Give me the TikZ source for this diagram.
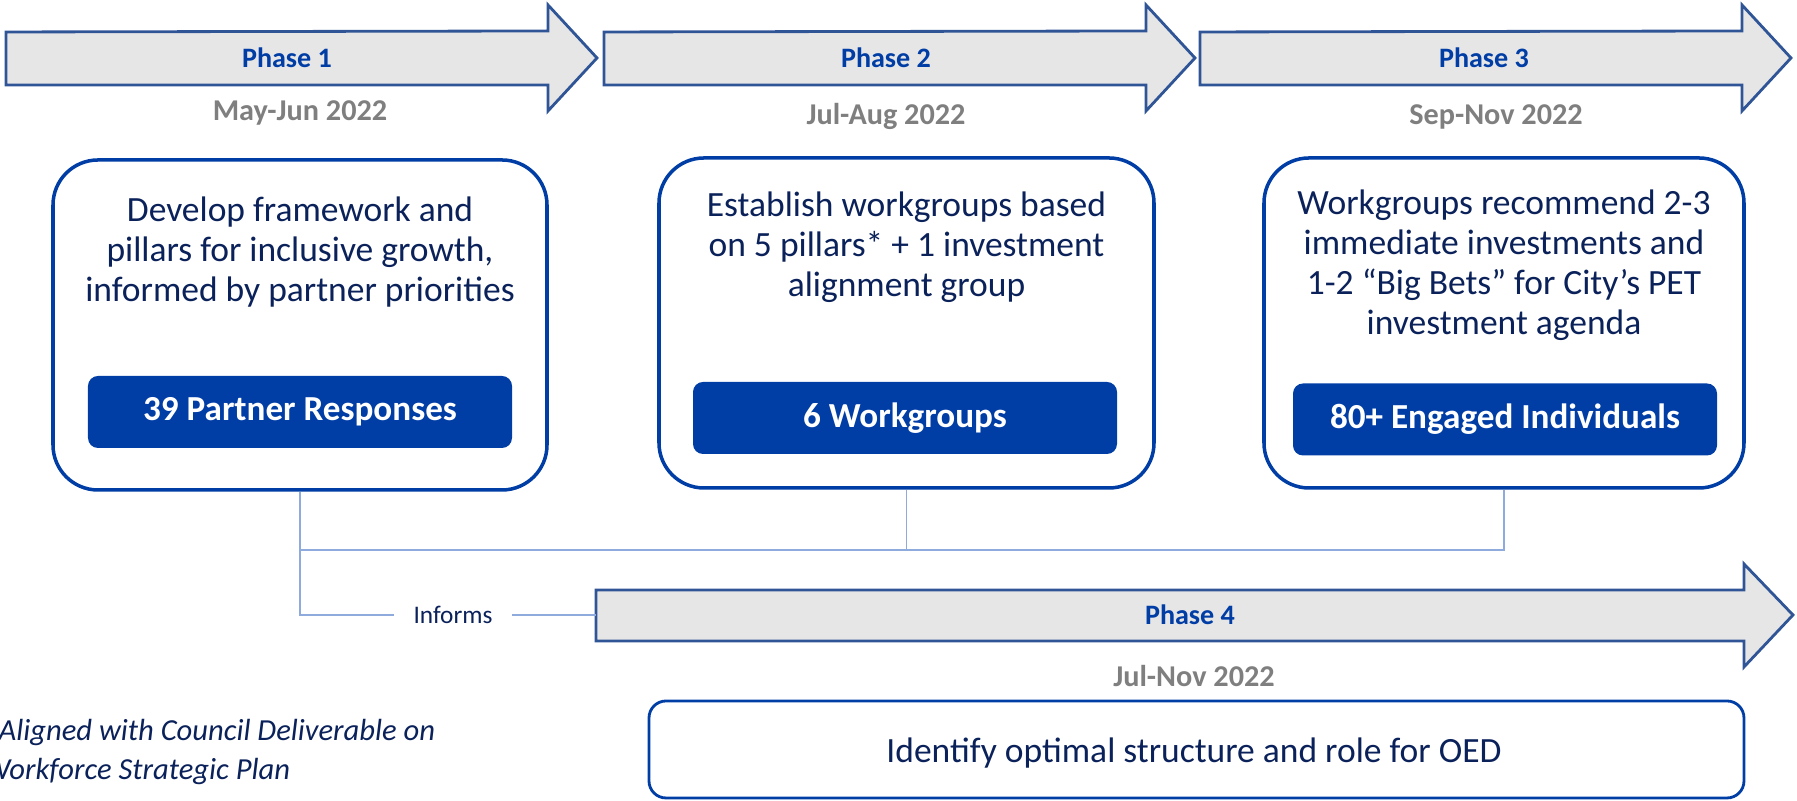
\documentclass[tikz,border=0pt]{standalone}
\usepackage{fontspec}
\setmainfont{Carlito}
\usepackage{xcolor}

\definecolor{oedblue}{RGB}{0,61,165}
\definecolor{navy}{RGB}{10,33,90}
\definecolor{arrowline}{RGB}{47,85,151}
\definecolor{arrowfill}{RGB}{230,230,230}
\definecolor{linkblue}{RGB}{143,170,220}
\definecolor{dategrey}{RGB}{127,127,127}

\begin{document}
\begin{tikzpicture}[font=\fontsize{10.1}{11.4}\selectfont, text=navy,
    phasearrow/.style={draw=arrowline, fill=arrowfill, line width=0.8pt},
    phase/.style={font=\fontsize{8}{9}\selectfont\bfseries, text=oedblue},
    when/.style={font=\fontsize{8.6}{9}\selectfont\bfseries, text=dategrey},
    stagebox/.style={draw=oedblue, line width=1pt, rounded corners=0.45cm, minimum height=3.30cm},
    countbox/.style={fill=oedblue, rounded corners=0.1cm, text=white, font=\fontsize{10}{11}\selectfont\bfseries,
        minimum width=4.24cm, minimum height=0.72cm},
    link/.style={draw=linkblue, line width=0.5pt}]
            \useasboundingbox (0, 0) rectangle (17.97, 8.01);

            % phase arrows
            \foreach \x in {0.06, 6.04, 12.00}
                \draw[phasearrow] (\x, 7.16) -- ++(5.42, 0) -- ++(0, -0.26) -- ++(0.49, 0.53)
                    -- ++(-0.49, 0.53) -- ++(0, -0.26) -- (\x, 7.69) -- cycle;
            \draw[phasearrow] (5.96, 1.60) -- (17.44, 1.60) -- (17.44, 1.34) -- (17.93, 1.86)
                -- (17.44, 2.37) -- (17.44, 2.11) -- (5.96, 2.11) -- cycle;
            \coordinate (tail4) at (5.96, 1.86);

            \node[phase] (ph1) at (2.87, 7.43) {Phase 1};
            \node[phase] (ph2) at (8.86, 7.43) {Phase 2};
            \node[phase] (ph3) at (14.84, 7.43) {Phase 3};
            \node[phase] (ph4) at (11.90, 1.86) {Phase 4};

            \node[when] (when1) at (3.00, 6.88) {May-Jun 2022};
            \node[when] (when2) at (8.86, 6.85) {Jul-Aug 2022};
            \node[when] (when3) at (14.96, 6.84) {Sep-Nov 2022};
            \node[when] (when4) at (11.94, 1.25) {Jul-Nov 2022};

            % stage boxes
            \node[stagebox, minimum width=4.94cm] (box1) at (3.00, 4.76) {};
            \node[stagebox, minimum width=4.95cm] (box2) at (9.065, 4.78) {};
            \node[stagebox, minimum width=4.80cm] (box3) at (15.04, 4.78) {};
            \node[align=center] (task1) at (3.00, 5.49) {Develop framework and\\pillars for inclusive growth,\\informed by partner priorities};
            \node[align=center] (task2) at (9.065, 5.54) {Establish workgroups based\\on 5 pillars* + 1 investment\\alignment group};
            \node[align=center] (task3) at (15.04, 5.36) {Workgroups recommend 2-3\\immediate investments and\\1-2 “Big Bets” for City’s PET\\investment agenda};
            \node[countbox] (count1) at (3.00, 3.89) {39 Partner Responses};
            \node[countbox] (count2) at (9.05, 3.83) {6 Workgroups};
            \node[countbox] (count3) at (15.05, 3.815) {80+ Engaged Individuals};

            \node[draw=oedblue, line width=0.8pt, rounded corners=0.17cm, minimum width=10.95cm, minimum height=0.97cm]
                (box4) at (11.965, 0.515) {};
            \node (task4) at (11.94, 0.48) {Identify optimal structure and role for OED};

            % links
            \coordinate (hub) at (3.00, 2.51);
            \node[font=\fontsize{7.2}{9}\selectfont, inner xsep=0.19cm] (inf) at (4.53, 1.86) {Informs};
            \draw[link] (box1.south) |- (inf.west);
            \draw[link] (inf.east) -- (tail4);
            \draw[link] (box3.south) |- (hub);
            \draw[link] (box2.south) -- (box2.south |- hub);

            \node[align=left, anchor=west, font=\fontsize{8.7}{11.1}\selectfont\itshape] (note) at (-0.29, 0.495)
                {*Aligned with Council Deliverable on\\Workforce Strategic Plan};
        \end{tikzpicture}
\end{document}
